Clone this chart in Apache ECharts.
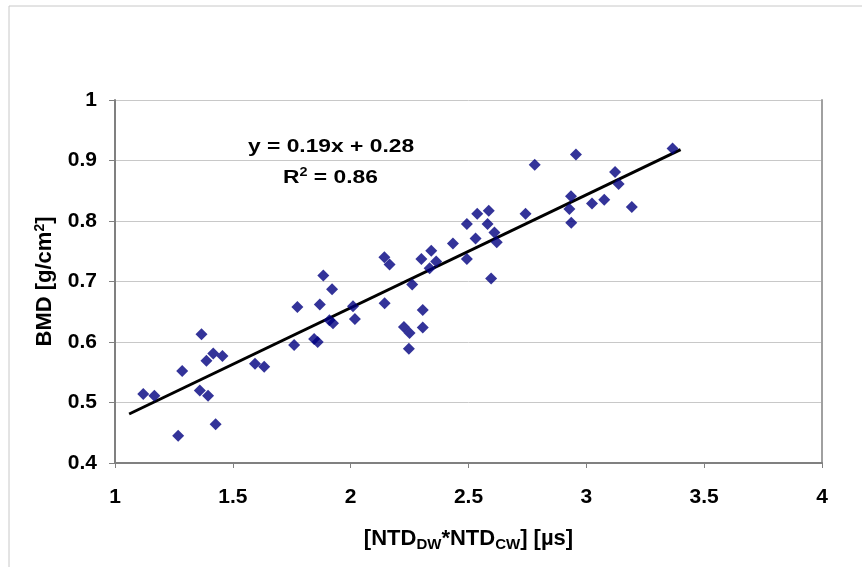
<!DOCTYPE html>
<html>
<head>
<meta charset="utf-8">
<script src="https://cdn.jsdelivr.net/npm/echarts@6/dist/echarts.min.js"></script>
<style>
    html, body { margin: 0; padding: 0; background: #fff; }
    #chart { width: 862px; height: 567px; }
</style>
</head>
<body>
<div id="chart"></div>
<script>
    // NTD product (x) vs BMD (y)
    const ntdValues = [1.12, 1.167, 1.268, 1.285, 1.367, 1.36, 1.395, 1.388, 1.417, 1.456,
        1.427, 1.594, 1.633, 1.76, 1.774, 1.845, 1.86, 1.869, 1.884, 1.921,
        1.91, 1.925, 2.01, 2.018, 2.143, 2.165, 2.144, 2.226, 2.25, 2.247,
        2.261, 2.30, 2.306, 2.306, 2.342, 2.335, 2.363, 2.434, 2.493, 2.493,
        2.53, 2.537, 2.586, 2.581, 2.596, 2.61, 2.62, 2.742, 2.781, 2.956,
        2.935, 2.928, 2.936, 3.024, 3.076, 3.122, 3.137, 3.193, 3.366]
    const bmdValues = [0.514, 0.511, 0.445, 0.552, 0.613, 0.52, 0.511, 0.569, 0.581, 0.577,
        0.464, 0.564, 0.559, 0.595, 0.658, 0.605, 0.600, 0.662, 0.710, 0.687,
        0.636, 0.631, 0.659, 0.638, 0.740, 0.728, 0.664, 0.625, 0.615, 0.589,
        0.695, 0.737, 0.653, 0.624, 0.751, 0.722, 0.733, 0.763, 0.795, 0.737,
        0.771, 0.812, 0.817, 0.795, 0.705, 0.781, 0.765, 0.812, 0.893, 0.910,
        0.841, 0.820, 0.797, 0.829, 0.835, 0.881, 0.861, 0.823, 0.920]
    // trend line ends
    const trendX = [1.06, 3.40]
    const trendY = [0.481, 0.918]
    const xTicks = [1, 1.5, 2, 2.5, 3, 3.5, 4]
    const yTicks = [0.4, 0.5, 0.6, 0.7, 0.8, 0.9, 1]

    let points = ntdValues.map((x, i) => [x, bmdValues[i]])
    let trend = trendX.map((x, i) => [x, trendY[i]])

    const FONT = '"Liberation Sans", Arial, sans-serif'

    let myChart = echarts.init(document.getElementById('chart'))
    myChart.setOption({
        animation: false,
        backgroundColor: '#fff',
        grid: {
            left: 115,
            right: 40,
            top: 100,
            bottom: 104
        },
        graphic: [
            {
                type: 'rect',
                shape: { x: 9, y: 6, width: 900, height: 620 },
                style: { fill: 'none', stroke: '#c8c8c8', lineWidth: 1 },
                z: -1
            },
            {
                type: 'text',
                x: 248, y: 137,
                scaleX: 1.2,
                style: {
                    text: 'y = 0.19x + 0.28',
                    fontFamily: FONT, fontWeight: 'bold', fontSize: 19,
                    fill: '#000', verticalAlign: 'top'
                }
            },
            {
                type: 'text',
                x: 283, y: 167,
                scaleX: 1.2,
                style: {
                    text: '{b|R}{s|2}{b| = 0.86}',
                    fill: '#000', verticalAlign: 'top',
                    rich: {
                        b: { fontFamily: FONT, fontWeight: 'bold', fontSize: 19, lineHeight: 21 },
                        s: { fontFamily: FONT, fontWeight: 'bold', fontSize: 12, verticalAlign: 'top', lineHeight: 21 }
                    }
                }
            }
        ],
        xAxis: {
            type: 'value',
            min: 1,
            max: 4,
            interval: 0.5,
            name: '[NTD{sub|DW}*NTD{sub|CW}] [µs]',
            nameLocation: 'middle',
            nameGap: 63,
            nameTextStyle: {
                color: '#000',
                fontFamily: FONT,
                fontWeight: 'bold',
                fontSize: 22,
                lineHeight: 26,
                rich: {
                    sub: {
                        fontFamily: FONT,
                        fontWeight: 'bold',
                        fontSize: 15,
                        verticalAlign: 'bottom',
                        lineHeight: 26
                    }
                }
            },
            axisLine: { show: true, onZero: false, lineStyle: { color: '#808080', width: 2 } },
            axisTick: { show: true, length: 5, lineStyle: { color: '#808080' } },
            axisLabel: {
                color: '#000',
                fontFamily: FONT,
                fontWeight: 'bold',
                fontSize: 21,
                margin: 24,
                formatter: v => xTicks.includes(v) ? String(v) : ''
            },
            splitLine: { show: false }
        },
        yAxis: [
            {
                type: 'value',
                min: 0.4,
                max: 1,
                interval: 0.1,
                name: 'BMD [g/cm{sup|2}]',
                nameLocation: 'middle',
                nameRotate: 90,
                nameGap: 58,
                nameTextStyle: {
                    color: '#000',
                    fontFamily: FONT,
                    fontWeight: 'bold',
                    fontSize: 22,
                    lineHeight: 24,
                    rich: {
                        sup: {
                            fontFamily: FONT,
                            fontWeight: 'bold',
                            fontSize: 14,
                            verticalAlign: 'top',
                            lineHeight: 24
                        }
                    }
                },
                axisLine: { show: true, onZero: false, lineStyle: { color: '#808080', width: 2 } },
                axisTick: { show: true, length: 6, lineStyle: { color: '#808080' } },
                axisLabel: {
                    color: '#000',
                    fontFamily: FONT,
                    fontWeight: 'bold',
                    fontSize: 21,
                    margin: 18,
                    formatter: v => {
                        let t = yTicks.find(k => Math.abs(k - v) < 1e-6)
                        return t === undefined ? '' : String(t)
                    }
                },
                splitLine: { show: true, lineStyle: { color: '#c8c8c8', width: 1 } }
            },
            {
                type: 'value',
                position: 'right',
                min: 0.4,
                max: 1,
                axisLine: { show: true, onZero: false, lineStyle: { color: '#a0a0a0', width: 2 } },
                axisTick: { show: false },
                axisLabel: { show: false },
                splitLine: { show: false }
            }
        ],
        series: [
            {
                type: 'line',
                data: trend,
                symbol: 'none',
                lineStyle: { color: '#000', width: 3 },
                z: 3
            },
            {
                type: 'scatter',
                data: points,
                symbol: 'diamond',
                symbolSize: 12,
                itemStyle: { color: '#000080' },
                z: 4
            }
        ]
    })
</script>
</body>
</html>
